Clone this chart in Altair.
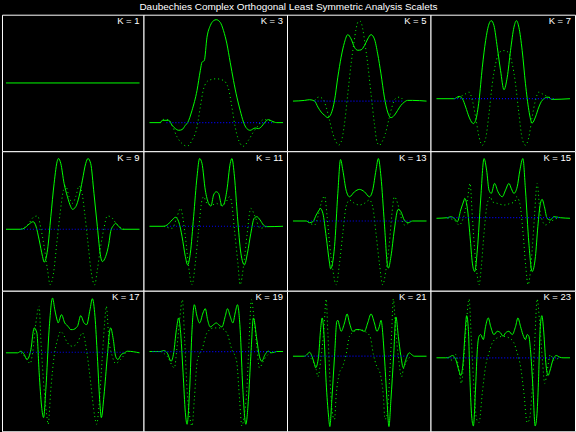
import altair as alt
import pandas as pd

TITLE = "Daubechies Complex Orthogonal Least Symmetric Analysis Scalets"
K_VALUES = [1, 3, 5, 7, 9, 11, 13, 15, 17, 19, 21, 23]

# (t, value) samples: real part (solid), companion curve (green dots), imaginary part (blue dots)
re_1 = [(0, 1.0), (13.4, 1.0)]
dot_1 = []
im_1 = []

re_3 = [(0, 0), (1.1, 0), (1.27, 0.23), (1.93, 0.23), (2.27, -0.27), (2.6, -0.6), (2.93, -0.77), (3.27, -0.7),
        (3.6, -0.27), (3.83, 0), (4.27, 1.23), (4.77, 3.23), (5.1, 5.23), (5.27, 6.06), (5.5, 6.23), (5.77, 8.56),
        (6.1, 9.73), (6.43, 10.23), (6.7, 10.33), (7.1, 10.06), (7.43, 9.23), (7.77, 7.9), (8.1, 6.06), (8.43, 4.23),
        (8.77, 2.56), (9.1, 1.23), (9.43, 0.06), (9.77, -0.6), (10.1, -0.77), (10.6, -0.54), (10.93, -0.6),
        (11.27, -0.37), (11.6, 0.06), (11.93, 0.3), (12.27, 0.16), (12.77, 0), (13.4, 0)]
dot_3 = [(1.1, 0), (1.43, 0.33), (1.93, 0.26), (2.27, -0.27), (2.77, -1.44), (3.27, -2.1), (3.77, -2.37),
         (4.27, -1.77), (4.77, -0.44), (5.1, 1.56), (5.43, 3.4), (5.93, 4.23), (6.7, 4.4), (7.43, 4.23), (7.93, 3.4),
         (8.27, 1.56), (8.6, -0.44), (9.1, -2.1), (9.43, -2.37), (9.93, -1.77), (10.43, -0.94), (10.93, -0.27),
         (11.43, 0.3), (11.93, 0.26), (12.43, 0)]
im_3 = [(1.7, 0), (12.3, 0)]

re_5 = [(0, 0), (1.17, 0.07), (1.67, 0.14), (2.17, 0), (2.5, -0.6), (2.83, -1.1), (3.17, -1.43), (3.5, -1.66),
        (3.83, -1.26), (4.17, 0.07), (4.5, 2.4), (4.83, 4.4), (5.17, 5.9), (5.5, 6.67), (5.83, 6.24), (6.17, 5.4),
        (6.5, 5.1), (6.83, 5.14), (7.17, 5.57), (7.5, 6.24), (7.83, 6.67), (8.17, 6.24), (8.5, 4.74), (8.83, 2.74),
        (9.17, 0.4), (9.5, -1.1), (9.83, -1.66), (10.17, -1.43), (10.5, -0.93), (10.83, -0.43), (11.17, -0.1),
        (11.5, 0.07), (12.0, 0.07), (13.4, 0)]
dot_5 = [(2.17, 0.07), (2.57, 0.4), (3.0, 0.24), (3.33, -0.6), (3.67, -1.93), (4.0, -3.26), (4.33, -4.1),
         (4.57, -4.43), (4.83, -4.1), (5.17, -2.26), (5.5, 0.74), (5.83, 3.74), (6.1, 5.74), (6.33, 7.24), (6.57, 8.0),
         (6.77, 8.0), (7.0, 7.24), (7.23, 5.74), (7.5, 3.74), (7.83, 0.74), (8.17, -2.26), (8.43, -4.1), (8.67, -4.43),
         (8.93, -4.1), (9.27, -3.26), (9.6, -1.93), (9.93, -0.6), (10.27, 0.24), (10.7, 0.4), (11.1, 0.07)]
im_5 = [(2.17, 0), (11.1, 0)]

re_7 = [(0, 0), (1.77, 0), (2.27, 0.23), (2.6, 0), (2.93, -0.84), (3.27, -1.84), (3.6, -2.44), (3.7, -2.5),
        (3.93, -2.17), (4.27, -0.17), (4.6, 3.16), (4.93, 5.83), (5.27, 7.5), (5.5, 7.83), (5.77, 7.33), (6.1, 5.16),
        (6.43, 2.83), (6.77, 0.9), (7.1, 2.16), (7.43, 4.83), (7.77, 7.16), (8.03, 7.83), (8.27, 7.16), (8.6, 4.83),
        (8.93, 1.5), (9.27, -1.17), (9.6, -2.44), (9.93, -1.84), (10.27, -0.84), (10.6, -0.17), (11.2, 0.16),
        (11.6, -0.07), (13.4, 0)]
dot_7 = [(1.77, 0), (2.43, 0.23), (2.93, 0.5), (3.27, 0.66), (3.6, -0.17), (3.93, -1.84), (4.27, -3.84), (4.6, -4.67),
         (4.93, -4.0), (5.27, -1.5), (5.6, 1.5), (5.93, 3.5), (6.33, 4.66), (6.77, 4.83), (7.2, 4.66), (7.6, 3.5),
         (7.93, 1.5), (8.27, -1.5), (8.6, -4.0), (8.93, -4.67), (9.27, -3.84), (9.6, -1.84), (9.93, -0.17),
         (10.27, 0.66), (10.6, 0.5), (11.1, 0.23), (11.77, 0)]
im_7 = [(1.77, 0), (11.77, 0)]

re_9 = [(0, 0), (1.5, 0), (1.83, 0.1), (2.33, 0.53), (2.73, 0.76), (3.0, 0.33), (3.33, -1.07), (3.67, -2.74),
        (3.83, -3.3), (4.17, -2.07), (4.5, 1.26), (4.83, 4.6), (5.17, 6.93), (5.27, 7.1), (5.5, 6.6), (5.83, 4.6),
        (6.17, 3.26), (6.5, 2.26), (6.67, 2.0), (7.0, 2.26), (7.33, 3.26), (7.67, 4.93), (8.0, 6.6), (8.23, 7.1),
        (8.5, 6.6), (8.83, 3.6), (9.17, 0.26), (9.5, -2.74), (9.67, -3.24), (10.0, -2.74), (10.33, -1.4),
        (10.5, -0.24), (10.83, 0.43), (11.0, 0.6), (11.33, 0.26), (11.67, 0), (13.4, 0)]
dot_9 = [(1.5, 0), (2.17, 0.43), (2.83, 1.26), (3.17, 1.33), (3.5, 0.1), (3.83, -1.74), (4.17, -4.07), (4.43, -5.57),
         (4.77, -4.4), (5.1, -1.4), (5.43, 1.6), (5.77, 3.93), (6.0, 4.33), (6.33, 3.26), (6.67, 2.6), (7.0, 3.26),
         (7.33, 4.33), (7.57, 3.93), (7.9, 1.6), (8.23, -1.4), (8.57, -4.4), (8.9, -5.57), (9.17, -4.07),
         (9.5, -1.74), (9.83, 0.1), (10.17, 1.33), (10.5, 1.26), (11.17, 0.43), (11.83, 0)]
im_9 = [(1.5, 0), (11.5, 0)]

re_11 = [(0, 0), (1.43, 0), (1.77, 0.13), (2.27, 0.63), (2.6, 0.9), (2.93, 0.46), (3.27, -1.04), (3.6, -3.04),
         (3.83, -3.87), (4.1, -2.7), (4.43, 0.96), (4.77, 4.96), (5.03, 6.8), (5.27, 6.3), (5.6, 3.63), (5.93, 2.3),
         (6.17, 2.03), (6.43, 3.13), (6.7, 3.46), (6.93, 3.3), (7.27, 2.03), (7.5, 2.3), (7.77, 3.63), (8.1, 6.3),
         (8.27, 6.8), (8.53, 4.96), (8.83, 0.96), (9.17, -2.7), (9.53, -3.87), (9.83, -2.7), (10.17, -0.7),
         (10.5, 0.8), (10.77, 0.96), (11.1, 0.63), (11.43, 0.13), (11.77, -0.04), (13.4, 0)]
dot_11 = [(1.43, 0), (2.27, -0.2), (2.77, 0.96), (3.1, 1.8), (3.6, -1.04), (3.93, -4.04), (4.27, -5.87), (4.6, -3.7),
          (4.93, -0.37), (5.27, 2.63), (5.43, 2.96), (5.77, 2.3), (6.27, 2.13), (6.7, 2.3), (7.1, 2.13), (7.6, 2.3),
          (8.03, 2.96), (8.2, 2.63), (8.53, -0.37), (8.87, -3.7), (9.1, -5.87), (9.43, -4.04), (9.77, -1.04),
          (10.17, 1.8), (10.6, 0.96), (11.1, -0.2), (11.77, 0)]
im_11 = [(1.77, 0), (11.77, 0)]

re_13 = [(0, 0), (1.33, 0), (1.67, -0.17), (2.0, -0.07), (2.33, 0.6), (2.67, 1.17), (2.73, 1.27), (3.0, 0.77),
         (3.33, -1.57), (3.67, -4.23), (3.77, -4.8), (4.17, -2.57), (4.5, 2.77), (4.77, 6.17), (5.0, 5.1),
         (5.33, 3.1), (5.67, 2.43), (6.17, 2.93), (6.67, 3.17), (7.17, 2.93), (7.67, 2.43), (8.0, 3.1), (8.33, 5.1),
         (8.57, 6.27), (8.83, 4.43), (9.17, -0.23), (9.5, -4.57), (9.57, -4.73), (9.83, -3.57), (10.17, -0.9),
         (10.5, 1.1), (10.57, 1.17), (10.83, 0.93), (11.17, 0.1), (11.57, -0.17), (12.0, 0), (13.4, 0)]
dot_13 = [(1.5, -0.07), (2.17, -0.4), (2.5, 0.43), (2.83, 1.77), (3.17, 2.5), (3.43, 0.43), (3.67, -2.23),
          (4.0, -4.9), (4.33, -6.4), (4.67, -4.23), (5.0, -1.23), (5.33, 1.43), (5.67, 2.1), (6.17, 1.77),
          (6.67, 1.6), (7.17, 1.77), (7.67, 2.1), (8.0, 1.43), (8.33, -1.23), (8.67, -4.23), (9.0, -6.4),
          (9.33, -4.9), (9.67, -2.23), (9.9, 0.43), (10.17, 2.43), (10.5, 1.77), (10.83, 0.43), (11.17, -0.4),
          (11.83, 0)]
im_13 = [(1.5, 0), (11.83, 0)]

re_15 = [(0, -0.06), (1.1, 0), (1.43, 0.1), (1.77, -0.06), (2.1, -0.4), (2.43, 0.77), (2.77, 1.77), (2.83, 1.94),
         (3.1, 0.94), (3.37, -1.9), (3.6, -4.56), (3.83, -5.4), (4.1, -3.23), (4.43, 1.77), (4.77, 5.94),
         (5.03, 4.77), (5.27, 2.77), (5.5, 2.44), (5.83, 3.44), (6.17, 2.6), (6.6, 2.1), (6.93, 2.77), (7.27, 3.44),
         (7.5, 2.94), (7.77, 2.44), (8.1, 3.1), (8.37, 4.77), (8.67, 5.94), (8.93, 2.77), (9.27, -2.56),
         (9.6, -5.4), (9.93, -3.9), (10.17, -0.9), (10.43, 1.44), (10.6, 1.84), (10.83, 1.1), (11.1, -0.06),
         (11.43, -0.23), (11.77, 0.1), (12.43, 0), (13.4, -0.06)]
dot_15 = [(1.1, -0.06), (1.77, -0.23), (2.27, -0.73), (2.73, 0.1), (3.1, 1.77), (3.37, 3.44), (3.6, 0.1),
          (3.83, -3.23), (4.1, -5.9), (4.27, -6.73), (4.5, -4.9), (4.77, -1.56), (5.1, 1.44), (5.43, 2.1),
          (5.6, 1.6), (6.1, 1.44), (6.77, 1.27), (7.43, 1.44), (7.86, 1.6), (8.03, 2.1), (8.36, 1.44),
          (8.69, -1.56), (8.96, -4.9), (9.19, -6.73), (9.37, -5.9), (9.6, -3.23), (9.83, 0.1), (10.1, 3.44),
          (10.37, 0.77), (10.6, -0.23), (10.93, -0.73), (11.43, -0.4), (12.1, -0.06)]
im_15 = [(1.1, 0), (12.43, 0)]

re_17 = [(0, -0.06), (1.17, -0.06), (1.5, 0.1), (1.83, -0.23), (2.1, -0.73), (2.5, 0.27), (2.77, 2.27),
         (2.83, 2.44), (3.1, 1.94), (3.33, -2.06), (3.57, -5.4), (3.77, -6.56), (4.0, -3.73), (4.33, 2.27),
         (4.67, 5.44), (4.9, 4.27), (5.17, 3.1), (5.23, 2.94), (5.57, 3.77), (5.9, 2.94), (6.23, 2.6), (6.5, 2.27),
         (6.67, 2.27), (7.17, 2.6), (7.5, 3.67), (7.83, 2.94), (8.1, 2.77), (8.43, 4.27), (8.67, 5.37), (8.93, 3.6),
         (9.17, -0.4), (9.4, -4.73), (9.57, -6.56), (9.83, -4.4), (10.17, -0.4), (10.43, 2.27), (10.5, 2.44),
         (10.77, 1.27), (11.0, -0.4), (11.23, -0.73), (11.57, -0.23), (11.9, -0.06), (12.17, 0.1), (13.4, -0.06)]
dot_17 = [(1.5, -0.06), (2.0, -0.56), (2.43, -1.13), (2.67, -0.06), (3.0, 2.94), (3.33, 4.6), (3.5, 1.27),
          (3.83, -3.73), (4.1, -6.4), (4.23, -7.23), (4.5, -3.73), (4.83, -0.4), (5.17, 1.27), (5.5, 2.1),
          (5.67, 1.94), (6.17, 0.94), (6.67, 0.6), (7.17, 0.94), (7.67, 1.94), (8.17, -0.4), (8.5, -3.06),
          (8.9, -6.4), (9.1, -7.23), (9.33, -5.4), (9.67, -0.4), (9.9, 2.94), (10.07, 4.6), (10.33, 1.27),
          (10.67, -0.4), (11.0, -1.13), (11.5, -0.73), (12.0, -0.06)]
im_17 = [(1.5, 0), (12.0, 0)]

re_19 = [(0, 0), (1.1, 0), (1.43, 0.1), (1.77, -0.13), (2.17, -0.97), (2.43, -0.13), (2.7, 2.2), (2.93, 3.37),
         (3.1, 2.2), (3.37, -2.13), (3.6, -6.13), (3.77, -7.3), (4.03, -3.8), (4.27, 2.2), (4.5, 4.7), (4.77, 3.53),
         (5.03, 2.87), (5.37, 3.87), (5.6, 4.3), (5.83, 3.2), (6.1, 2.47), (6.43, 2.7), (6.7, 2.87), (6.93, 2.7),
         (7.27, 2.47), (7.6, 3.53), (7.83, 4.3), (8.1, 3.53), (8.37, 2.87), (8.6, 3.87), (8.83, 4.7), (9.1, 2.2),
         (9.37, -3.8), (9.67, -7.3), (9.93, -4.8), (10.17, -0.47), (10.43, 3.37), (10.77, 1.2), (11.03, -0.47),
         (11.27, -0.97), (11.6, -0.3), (11.93, 0.03), (12.27, -0.13), (12.77, 0), (13.4, 0)]
dot_19 = [(1.1, 0), (1.77, -0.47), (2.5, -1.63), (2.77, 0.53), (3.03, 3.2), (3.3, 5.2), (3.53, 1.2), (3.77, -3.8),
          (4.03, -6.47), (4.27, -7.47), (4.5, -4.8), (4.77, -1.13), (4.93, -0.47), (5.27, 0.2), (5.77, 1.87),
          (6.43, 2.37), (7.1, 2.37), (7.77, 1.87), (8.27, 0.2), (8.6, -0.47), (8.77, -1.13), (9.04, -4.8),
          (9.27, -7.47), (9.5, -6.47), (9.77, -3.8), (10.0, 1.2), (10.23, 5.2), (10.5, 3.2), (10.77, 0.53),
          (11.03, -1.63), (11.5, -0.8), (11.9, -0.3), (12.43, 0)]
im_19 = [(0.3, 0), (12.7, 0)]

re_21 = [(0, 0), (1.17, 0), (1.5, 0.27), (1.67, 0.4), (1.9, 0), (2.17, -0.83), (2.27, -1.16), (2.57, 0),
         (2.77, 2.67), (2.93, 3.84), (3.1, 2.34), (3.33, -2.66), (3.57, -6.0), (3.7, -7.06), (3.9, -4.33),
         (4.17, 0), (4.4, 3.5), (4.5, 3.6), (4.67, 3.0), (4.83, 2.5), (5.17, 3.34), (5.43, 4.24), (5.67, 3.34),
         (6.0, 2.5), (6.33, 2.67), (6.67, 2.67), (7.17, 2.5), (7.5, 3.34), (7.83, 4.24), (8.17, 3.34), (8.43, 2.5),
         (8.67, 3.0), (8.83, 3.6), (9.17, 0), (9.43, -4.33), (9.63, -7.06), (9.83, -4.33), (10.1, 0), (10.33, 3.94),
         (10.57, 2.0), (10.83, 0), (11.07, -1.16), (11.33, -0.33), (11.67, 0.34), (11.9, 0.17), (12.17, 0),
         (13.4, 0)]
dot_21 = [(1.5, 0), (2.0, -0.5), (2.33, -1.33), (2.5, -2.06), (2.83, 0), (3.1, 2.67), (3.33, 5.74), (3.5, 2.34),
          (3.77, -3.33), (4.0, -6.0), (4.17, -6.33), (4.33, -4.0), (4.67, -1.66), (5.0, -1.0), (5.33, 0.17),
          (5.67, 2.0), (6.17, 2.5), (6.7, 2.67), (7.2, 2.5), (7.73, 2.0), (8.07, 0.17), (8.4, -1.0), (8.73, -1.66),
          (9.07, -4.0), (9.23, -6.33), (9.4, -6.0), (9.63, -3.33), (9.9, 2.34), (10.07, 5.74), (10.3, 2.67),
          (10.57, 0), (10.9, -2.06), (11.07, -1.33), (11.4, -0.5), (11.9, 0)]
im_21 = [(1.17, 0), (11.6, 0)]

re_23 = [(0, 0), (0.93, 0), (1.27, 0.06), (1.6, 0.23), (1.93, -0.17), (2.27, -1.34), (2.43, -1.77), (2.67, -0.5),
         (2.87, 2.5), (3.03, 4.23), (3.2, 2.83), (3.37, -2.5), (3.53, -5.84), (3.7, -6.84), (3.93, -2.84),
         (4.1, 0.83), (4.27, 2.16), (4.43, 2.33), (4.7, 1.83), (4.93, 3.16), (5.2, 4.0), (5.43, 3.16), (5.77, 2.33),
         (6.1, 2.66), (6.43, 2.5), (6.68, 2.16), (6.93, 2.5), (7.27, 2.66), (7.6, 2.33), (7.94, 3.16), (8.17, 4.0),
         (8.43, 3.16), (8.67, 2.33), (8.93, 1.83), (9.1, 2.33), (9.27, 2.16), (9.43, 0.83), (9.67, -2.84),
         (9.9, -6.84), (10.07, -5.84), (10.23, -2.5), (10.4, 2.83), (10.57, 4.23), (10.77, 2.5), (10.97, -0.5),
         (11.2, -1.77), (11.37, -1.34), (11.7, -0.17), (12.03, 0.23), (12.37, 0.06), (12.7, 0), (13.4, 0)]
dot_23 = [(1.1, 0), (1.6, -0.24), (1.93, 0.33), (2.27, -1.34), (2.5, -2.57), (2.77, 0.16), (3.03, 3.83), (3.27, 5.9),
          (3.5, 1.83), (3.77, -3.17), (4.03, -6.17), (4.27, -6.5), (4.6, -3.5), (4.93, -0.84), (5.27, 0.5),
          (5.6, 1.5), (6.1, 2.0), (6.7, 2.16), (7.27, 2.0), (7.77, 1.5), (8.1, 0.5), (8.43, -0.84), (8.77, -3.5),
          (9.1, -6.5), (9.33, -6.17), (9.6, -3.17), (9.87, 1.83), (10.1, 5.9), (10.33, 3.83), (10.6, 0.16),
          (10.87, -2.57), (11.1, -1.34), (11.43, 0.33), (11.77, -0.24), (12.27, 0)]
im_23 = [(1.1, 0), (12.27, 0)]

REAL = [re_1, re_3, re_5, re_7, re_9, re_11, re_13, re_15, re_17, re_19, re_21, re_23]
DOTS = [dot_1, dot_3, dot_5, dot_7, dot_9, dot_11, dot_13, dot_15, dot_17, dot_19, dot_21, dot_23]
IMAG = [im_1, im_3, im_5, im_7, im_9, im_11, im_13, im_15, im_17, im_19, im_21, im_23]

# panel scale ranges (one per panel, like independent autoscaled axes)
Y_DOMAINS = [[0, 2], [-2.87, 10.83], [-5.03, 8.67], [-5.27, 8.43],
             [-6.17, 7.83], [-6.47, 7.53], [-7.0, 7.0], [-7.33, 6.67],
             [-7.93, 6.17], [-8.0, 6.1], [-7.53, 6.57], [-7.37, 6.73]]
X_DOMAINS = [[-0.4, 13.8], [-0.6, 13.8], [-0.6, 13.8], [-0.6, 13.9]]
COL_WIDTHS = [142, 144, 144, 145]
ROW_HEIGHTS = [137, 140, 141]

GREEN = "#00ff00"
BLUE = "#0000ff"
FONT = "Liberation Sans"


def panel(idx):
    k = K_VALUES[idx]
    col, row = idx % 4, idx // 4
    w, h = COL_WIDTHS[col], ROW_HEIGHTS[row]
    recs = []
    for part, pts in (("re", REAL[idx]), ("dot", DOTS[idx]), ("im", IMAG[idx])):
        for i, (t, v) in enumerate(pts):
            recs.append({"part": part, "t": t, "v": v, "i": i})
    df = pd.DataFrame(recs)
    base = alt.Chart(df).encode(
        x=alt.X("t:Q", scale=alt.Scale(domain=X_DOMAINS[col], nice=False, zero=False), axis=None),
        y=alt.Y("v:Q", scale=alt.Scale(domain=Y_DOMAINS[idx], nice=False, zero=False), axis=None),
        order="i:Q",
    )
    solid = base.transform_filter(alt.datum.part == "re").mark_line(
        color=GREEN, strokeWidth=1, interpolate="monotone")
    dotted = base.transform_filter(alt.datum.part == "dot").mark_line(
        color=GREEN, strokeWidth=1, strokeDash=[1, 3], interpolate="monotone")
    imag = base.transform_filter(alt.datum.part == "im").mark_line(
        color=BLUE, strokeWidth=1.2, strokeDash=[1, 2])
    label = alt.Chart(pd.DataFrame({"lab": [f"K = {k}"]})).mark_text(
        align="right", baseline="alphabetic", color="white", fontSize=9.5, font=FONT,
        fontWeight="normal"
    ).encode(x=alt.value(w - 4), y=alt.value(9.5), text="lab:N")
    return alt.layer(solid, dotted, imag, label).properties(width=w, height=h)


panels = [panel(i) for i in range(12)]

chart = alt.concat(*panels, columns=4, spacing=0, bounds="flush", align="each").properties(
    title=alt.TitleParams(TITLE, anchor="middle", color="white", fontSize=10, font=FONT,
                          fontWeight="normal", offset=2),
    background="black",
    padding={"left": 1, "top": 1, "right": 0, "bottom": 0},
).configure_view(stroke="white", strokeWidth=1, fill="black")

chart.save("out.html", embed_options={"renderer": "svg", "actions": False})
